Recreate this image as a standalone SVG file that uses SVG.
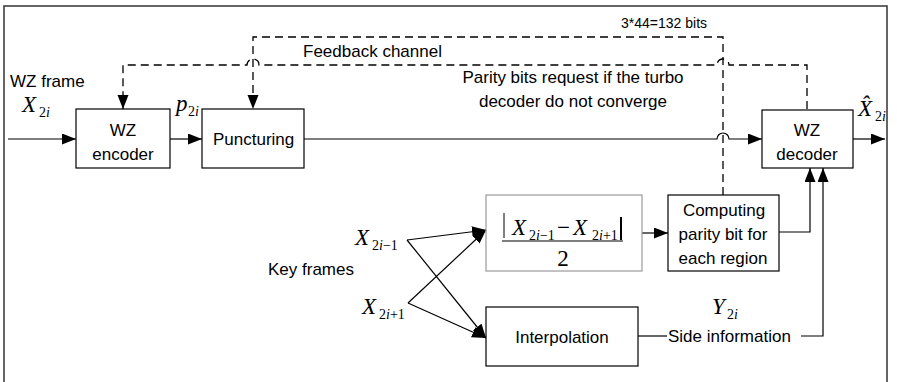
<svg xmlns="http://www.w3.org/2000/svg" width="897" height="382" viewBox="0 0 897 382">
<defs>
<marker id="ah" markerUnits="userSpaceOnUse" markerWidth="15" markerHeight="12" refX="14" refY="5.5" orient="auto">
<path d="M0,0 L14,5.5 L0,11 z" fill="#000"/>
</marker>
<style>
.box{fill:#fff;stroke:#000;stroke-width:1.2}
.gbox{fill:#fff;stroke:#999;stroke-width:1.2}
.t{font-family:"Liberation Sans",Arial,sans-serif;font-size:17px;fill:#000}
.ts{font-family:"Liberation Sans",Arial,sans-serif;font-size:14px;fill:#000}
.m{font-family:"Liberation Serif","Times New Roman",serif;font-style:italic;font-size:23px;fill:#000}
.n{font-family:"Liberation Serif","Times New Roman",serif;font-style:normal;font-size:23px;fill:#000}
.sub{font-family:"Liberation Serif","Times New Roman",serif;font-size:14px;fill:#000}
.ln{fill:none;stroke:#000;stroke-width:1.2}
.ds{fill:none;stroke:#000;stroke-width:1.3;stroke-dasharray:8,5}
</style>
</defs>
<rect width="897" height="382" fill="#fff"/>
<path d="M4,390 V6 H887 V390" fill="none" stroke="#333" stroke-width="1.5"/>

<g id="connectors">
<path class="ln" d="M8,139 H76" marker-end="url(#ah)"/>
<path class="ln" d="M170,139 H202" marker-end="url(#ah)"/>
<path class="ln" d="M304,139 H717 A6,6 0 0 1 729,139 H762" marker-end="url(#ah)"/>
<path class="ln" d="M853,139 H885" marker-end="url(#ah)"/>
<path class="ds" d="M807,109 V65 H729 A6,6 0 0 0 717,65 H259 A6,6 0 0 0 247,65 H123 V109" marker-end="url(#ah)"/>
<path class="ds" d="M723,195 V37 H253 V109" marker-end="url(#ah)"/>
<path class="ln" d="M642,233 H668" marker-end="url(#ah)"/>
<path class="ln" d="M779,232 H810 V168" marker-end="url(#ah)"/>
<path class="ln" d="M801,336 H823 V168" marker-end="url(#ah)"/>
<path class="ln" d="M638,336 H667" stroke="#555"/>
<path class="ln" d="M407,240 L486,230" marker-end="url(#ah)"/>
<path class="ln" d="M407,240 L486,338" marker-end="url(#ah)"/>
<path class="ln" d="M408,303 L486,230" marker-end="url(#ah)"/>
<path class="ln" d="M408,303 L486,338" marker-end="url(#ah)"/>
</g>

<g id="wz-encoder">
<rect class="box" x="76" y="109" width="94" height="59"/>
<text class="t" x="123" y="136" text-anchor="middle">WZ</text>
<text class="t" x="123" y="160" text-anchor="middle">encoder</text>
</g>
<g id="puncturing">
<rect class="box" x="202" y="109" width="102" height="59"/>
<text class="t" x="213" y="145">Puncturing</text>
</g>
<g id="wz-decoder">
<rect class="box" x="762" y="110" width="91" height="58"/>
<text class="t" x="807" y="136" text-anchor="middle">WZ</text>
<text class="t" x="807" y="160" text-anchor="middle">decoder</text>
</g>
<g id="difference">
<rect class="gbox" x="486" y="195" width="156" height="76"/>
<line x1="504" y1="213" x2="504" y2="238" stroke="#000" stroke-width="1"/>
<text class="m" x="512" y="235">X</text>
<text class="sub" x="529" y="240">2<tspan style="font-style:italic">i</tspan>−1</text>
<text class="n" x="557" y="235">−</text>
<text class="m" x="573" y="235">X</text>
<text class="sub" x="592" y="240">2<tspan style="font-style:italic">i</tspan>+1</text>
<line x1="621" y1="217" x2="621" y2="240" stroke="#000" stroke-width="2"/>
<line x1="502" y1="241" x2="623" y2="241" stroke="#000" stroke-width="1"/>
<text class="n" x="563" y="266" text-anchor="middle">2</text>
</g>
<g id="computing">
<rect class="box" x="668" y="195" width="111" height="76"/>
<text class="t" x="724" y="216" text-anchor="middle">Computing</text>
<text class="t" x="723" y="240" text-anchor="middle">parity bit for</text>
<text class="t" x="723" y="264" text-anchor="middle">each region</text>
</g>
<g id="interpolation">
<rect class="box" x="486" y="307" width="152" height="59"/>
<text class="t" x="562" y="343" text-anchor="middle">Interpolation</text>
</g>

<g id="labels">
<text class="t" x="10" y="87">WZ frame</text>
<text class="m" x="22" y="112">X</text><text class="sub" x="39" y="117">2<tspan style="font-style:italic">i</tspan></text>
<text class="m" x="176" y="111">p</text><text class="sub" x="188" y="116">2<tspan style="font-style:italic">i</tspan></text>
<text class="t" x="303" y="57">Feedback channel</text>
<text class="ts" x="621" y="28">3*44=132 bits</text>
<text class="t" x="573" y="83" text-anchor="middle">Parity bits request if the turbo</text>
<text class="t" x="573" y="107" text-anchor="middle">decoder do not converge</text>
<text class="m" x="858" y="116">X̂</text><text class="sub" x="875" y="121">2<tspan style="font-style:italic">i</tspan></text>
<text class="m" x="355" y="245">X</text><text class="sub" x="372" y="250">2<tspan style="font-style:italic">i</tspan>−1</text>
<text class="t" x="268" y="275">Key frames</text>
<text class="m" x="362" y="314">X</text><text class="sub" x="379" y="319">2<tspan style="font-style:italic">i</tspan>+1</text>
<text class="m" x="712" y="314">Y</text><text class="sub" x="727" y="319">2<tspan style="font-style:italic">i</tspan></text>
<text class="t" x="668" y="342">Side information</text>
</g>
</svg>
